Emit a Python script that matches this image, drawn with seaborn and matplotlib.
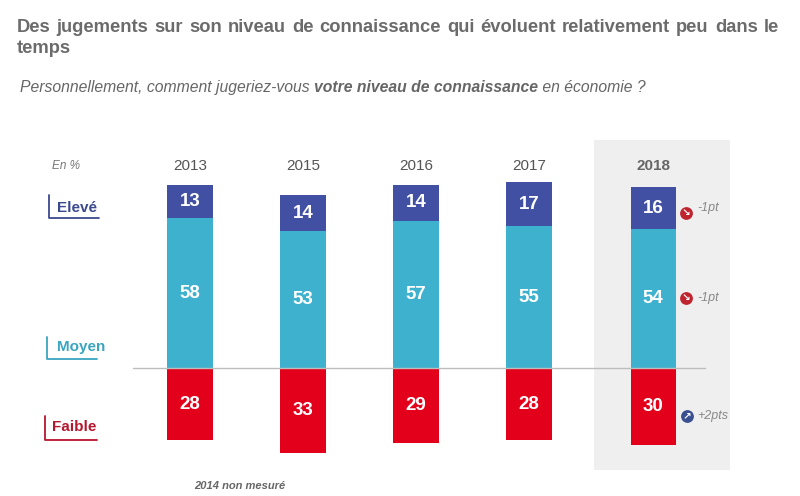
import pandas as pd
import numpy as np
import matplotlib
matplotlib.use("Agg")
import matplotlib.pyplot as plt
import seaborn as sns

# data
years = ["2013", "2015", "2016", "2017", "2018"]
eleve = [13, 14, 14, 17, 16]
moyen = [58, 53, 57, 55, 54]
faible = [28, 33, 29, 28, 30]
evol_labels = ["-1pt", "-1pt", "+2pts"]

# layout (x position of each bar, 2018 set a bit apart)
xpos = [0, 1, 2, 3, 4.1]

c_eleve = "#4150a2"
c_moyen = "#3db1cd"
c_faible = "#e2001a"

sns.set_theme(style="white")
plt.rcParams['font.family'] = ['Liberation Sans', 'DejaVu Sans']

W, H = 800, 496
fig = plt.figure(figsize=(8, 4.96), dpi=100)
ax = fig.add_axes([0, 0, 1, 1])

# pixel -> data helpers
X0, DX = 190, 113.0
Y0, DY = 368, 2.58
def vx(p):
    return (p - X0) / DX
def vy(p):
    return (Y0 - p) / DY
def fx(p):
    return p / W
def fy(p):
    return 1 - p / H

df = pd.DataFrame({"pos": xpos, "year": years, "eleve": eleve,
                   "moyen": moyen, "faible": faible})
df["total"] = df["eleve"] + df["moyen"]
df["neg"] = -df["faible"]

# highlighted background for 2018
ax.add_patch(plt.Rectangle((vx(594), vy(470)), vx(730) - vx(594), vy(140) - vy(470),
                           color="#efefef", zorder=0, lw=0))

for col, c in [("total", c_eleve), ("moyen", c_moyen), ("neg", c_faible)]:
    sns.barplot(data=df, x="pos", y=col, native_scale=True, width=0.40,
                color=c, saturation=1, errorbar=None, linewidth=0, ax=ax, zorder=2)

ax.plot([vx(133), vx(705)], [0, 0], color="#bdbdbd", lw=1, zorder=3)

for i, r in df.iterrows():
    kw = dict(ha="center", va="center", color="white", fontsize=13.5, fontweight="bold", zorder=4)
    ax.text(r.pos, r.moyen + r.eleve / 2, str(r.eleve), **kw)
    ax.text(r.pos, r.moyen / 2, str(r.moyen), **kw)
    ax.text(r.pos, -r.faible / 2, str(r.faible), **kw)
    last = r.year == "2018"
    ax.text(r.pos, vy(166), r.year, ha="center", va="center", fontsize=11,
            color="#666666" if last else "#555555",
            fontweight="bold" if last else "normal")

ax.set_xlim(vx(0), vx(W))
ax.set_ylim(vy(H), vy(0))
ax.axis("off")

renderer = fig.canvas.get_renderer()

# title, justified first line
tkw = dict(fontsize=13.2, fontweight="bold", color="#6b6b6b", va="baseline")
words = "Des jugements sur son niveau de connaissance qui évoluent relativement peu dans le".split()
txts = [fig.text(0, fy(32), w, **tkw) for w in words]
widths = [t.get_window_extent(renderer).width for t in txts]
gap = (779 - 17 - sum(widths)) / (len(words) - 1)
x = 17
for t, w in zip(txts, widths):
    t.set_x(fx(x))
    x += w + gap
fig.text(fx(17), fy(53), "temps", **tkw)

# subtitle with bold part, pieces placed side by side on one baseline
skw = dict(fontsize=11.3, style="italic", color="#666666", va="baseline")
parts = [("Personnellement, comment jugeriez-vous ", "normal"),
         ("votre niveau de connaissance", "bold"),
         (" en économie ?", "normal")]
x = 20
for s, wt in parts:
    t = fig.text(fx(x), fy(92), s, fontweight=wt, **skw)
    x += t.get_window_extent(renderer).width

fig.text(fx(52), fy(166), "En %", fontsize=8.5, style="italic", color="#777777", va="center")

# category labels with brackets
cats = [("Elevé", "#3b4a8e", 57, 208, 49, 195, 218, 99),
        ("Moyen", "#3aa5c0", 57, 347, 47, 337, 359, 97),
        ("Faible", "#b5172f", 52, 427, 45, 416, 440, 97)]
for name, c, tx, ty, bx, b0, b1, bx2 in cats:
    fig.text(fx(tx), fy(ty), name, fontsize=11, fontweight="bold", color=c, va="center")
    fig.add_artist(plt.Line2D([fx(bx), fx(bx), fx(bx2)], [fy(b0), fy(b1), fy(b1)],
                              color=c, lw=1.3))

# evolution icons
icons = [(686, 213, 208, "#c0242f", "\u2198"),
         (686, 298, 298, "#c0242f", "\u2198"),
         (687, 416, 416, "#3a4f8f", "\u2197")]
for (ix, iy, ty, c, arr), lab in zip(icons, evol_labels):
    ax.scatter([vx(ix)], [vy(iy)], s=85, color=c, zorder=5, linewidths=0)
    ax.text(vx(ix), vy(iy), arr, ha="center", va="center", color="white",
            fontsize=7.5, fontweight="bold", family="DejaVu Sans", zorder=6)
    fig.text(fx(697), fy(ty), lab, fontsize=9, style="italic", color="#888888", va="center")

fig.text(fx(194), fy(486), "2014 non mesuré", fontsize=8, style="italic",
         fontweight="bold", color="#666666", va="center")

fig.savefig("out.png", dpi=100)
